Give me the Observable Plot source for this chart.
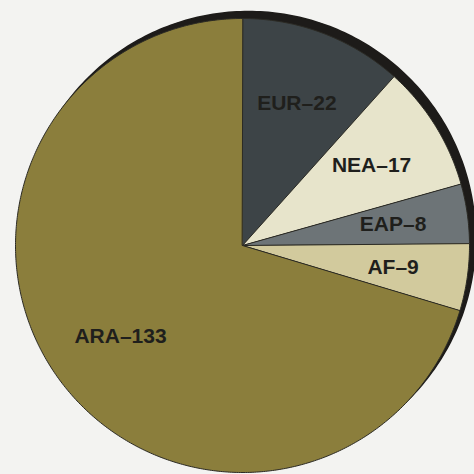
<!DOCTYPE html>
<html>
<head>
<meta charset="utf-8">
<script src="https://cdn.jsdelivr.net/npm/d3@7"></script>
<script src="https://cdn.jsdelivr.net/npm/@observablehq/plot@0.6"></script>
<style>
  html, body { margin: 0; padding: 0; background: #f3f3f1; }
  #chart svg { display: block; }
</style>
</head>
<body>
<div id="chart"></div>
<script>
// Regions, clockwise from twelve o'clock
const regions = ["EUR", "NEA", "EAP", "AF", "ARA"];
const counts = [22, 17, 8, 9, 133];
const colors = ["#3d4447", "#e7e4cb", "#6d7477", "#d2ca9d", "#8b7e3c"];

const total = d3.sum(counts);
const ends = d3.cumsum(counts);

// Polygon outline for each slice in unit-circle coordinates
const slicePts = [];
const labels = [];
regions.forEach((r, i) => {
  const a0 = ((ends[i] - counts[i]) / total) * 2 * Math.PI;
  const a1 = (ends[i] / total) * 2 * Math.PI;
  const n = Math.max(2, Math.ceil((a1 - a0) / 0.01));
  slicePts.push({region: r, x: 0, y: 0});
  for (let k = 0; k <= n; k++) {
    const a = a0 + (a1 - a0) * k / n;
    slicePts.push({region: r, x: Math.sin(a), y: Math.cos(a)});
  }
  const am = (a0 + a1) / 2;
  labels.push({region: r, text: `${r}–${counts[i]}`, x: 0.67 * Math.sin(am), y: 0.67 * Math.cos(am)});
});

// Dark rim behind the disc, nudged up and to the right
const rimDx = 6 / 227, rimDy = 7 / 227;
const rim = d3.range(0, 361, 1).map(d => {
  const a = d * Math.PI / 180;
  return {x: rimDx + Math.sin(a), y: rimDy + Math.cos(a)};
});

const chart = Plot.plot({
  width: 474,
  height: 474,
  marginLeft: 15,
  marginRight: 5,
  marginTop: 18,
  marginBottom: 2,
  x: {domain: [-1, 1], axis: null},
  y: {domain: [-1, 1], axis: null},
  style: {background: "#f3f3f1", overflow: "visible"},
  marks: [
    Plot.line(rim, {x: "x", y: "y", fill: "#1d1b19", stroke: "#1d1b19", curve: "linear-closed"}),
    Plot.line(slicePts, {
      x: "x", y: "y", z: "region",
      fill: d => colors[regions.indexOf(d.region)],
      stroke: "#2b2a24", strokeWidth: 1,
      curve: "linear-closed"
    }),
    Plot.text(labels, {
      x: "x", y: "y", text: "text",
      fontSize: 21, fontWeight: "bold",
      fontFamily: "Liberation Sans, Arial, sans-serif",
      fill: "#1f1f1c"
    })
  ]
});

document.getElementById("chart").appendChild(chart);
</script>
</body>
</html>
